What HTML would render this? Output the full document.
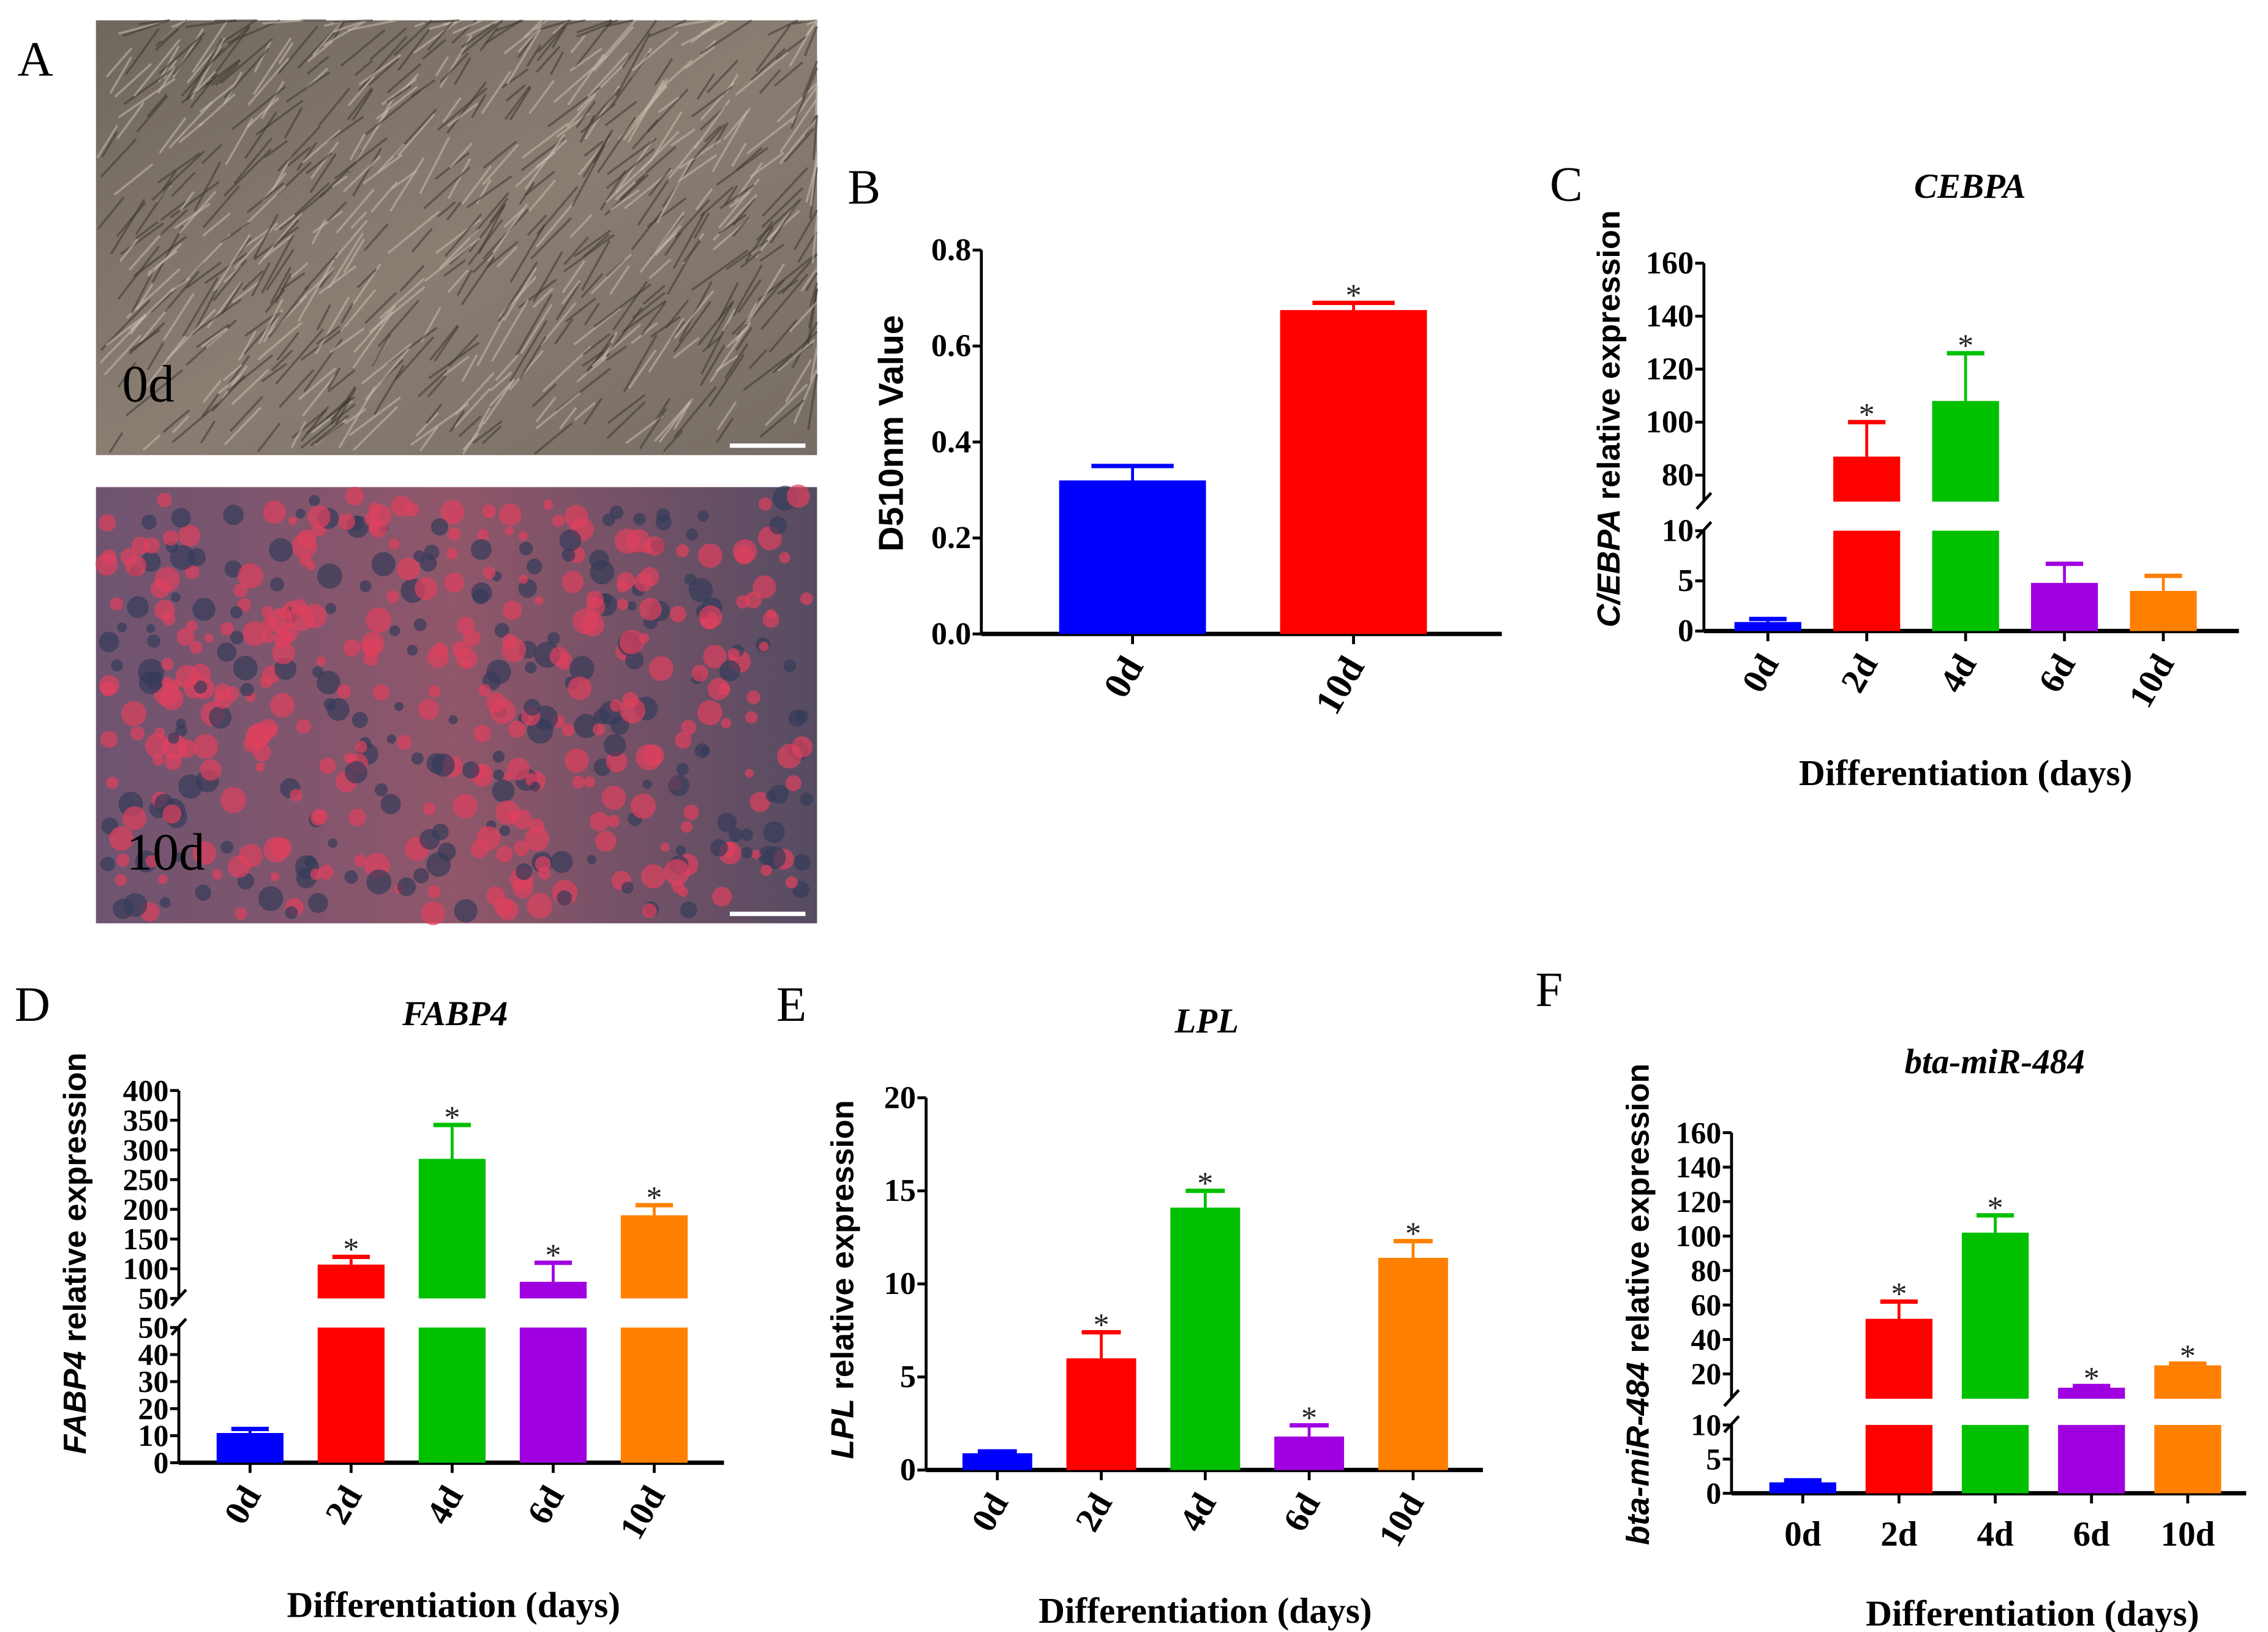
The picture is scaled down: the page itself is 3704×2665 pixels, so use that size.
<!DOCTYPE html>
<html><head><meta charset="utf-8"><style>
html,body{margin:0;padding:0;background:#fff;}
svg{display:block;}
text{font-family:"Liberation Serif",serif;}
text.sans{font-family:"Liberation Sans",sans-serif;}
</style></head><body>
<svg id="fig" width="3704" height="2665" viewBox="0 0 1560 1122.4" preserveAspectRatio="none" xmlns="http://www.w3.org/2000/svg">
<defs>
<linearGradient id="g0" x1="0" y1="0" x2="1" y2="1"><stop offset="0" stop-color="#6f675d"/><stop offset="0.5" stop-color="#8a7e73"/><stop offset="1" stop-color="#766d64"/></linearGradient>
<linearGradient id="g1" x1="0" y1="0" x2="1" y2="0"><stop offset="0" stop-color="#6e5470"/><stop offset="0.5" stop-color="#90566a"/><stop offset="1" stop-color="#564c62"/></linearGradient>
</defs>
<text x="12" y="52" font-size="34">A</text>
<g id="photo0"><rect x="66" y="14" width="496" height="299" fill="url(#g0)"/></g>
<g id="photo10"><rect x="66" y="335" width="496" height="300" fill="url(#g1)"/></g>
<text x="84" y="276" font-size="36">0d</text>
<text x="87" y="598" font-size="36">10d</text>
<rect x="502" y="305" width="52" height="3" fill="#fff"/>
<rect x="502" y="627" width="52" height="3" fill="#fff"/>
<text x="583" y="140" font-size="34">B</text>
<text x="1066" y="138" font-size="34">C</text>
<text x="10" y="702" font-size="34">D</text>
<text x="534" y="702" font-size="34">E</text>
<text x="1056" y="692" font-size="34">F</text>
<g id="charts"></g>
</svg>
<script>
// ---- data ----
const bCats = ["0d","10d"];
const bVals = [0.32, 0.675];
const bErrs = [0.35, 0.69];
const bStars = [false, true];
const bTicks = ["0.0","0.2","0.4","0.6","0.8"];

const dayCats = ["0d","2d","4d","6d","10d"];
const cVals = [0.9, 87, 108, 4.8, 4.0];
const cErrs = [1.2, 100, 126, 6.7, 5.5];
const cStars = [false, true, true, false, false];
const cTicksLow = ["0","5","10"];
const cTicksHigh = ["80","100","120","140","160"];

const dVals = [11, 107, 285, 78, 190];
const dErrs = [12.5, 120, 342, 110, 207];
const dStars = [false, true, true, true, true];
const dTicksLow = ["0","10","20","30","40","50"];
const dTicksHigh = ["50","100","150","200","250","300","350","400"];

const eVals = [0.9, 6.0, 14.1, 1.8, 11.4];
const eErrs = [1.0, 7.4, 15.0, 2.4, 12.3];
const eStars = [false, true, true, true, true];
const eTicks = ["0","5","10","15","20"];

const fVals = [1.6, 52, 102, 12, 25];
const fErrs = [1.9, 62, 112, 13, 26];
const fStars = [false, true, true, true, true];
const fTicksLow = ["0","5","10"];
const fTicksHigh = ["20","40","60","80","100","120","140","160"];

const colors5 = ["#0000ff","#ff0000","#00c000","#a000e0","#ff8000"];
const colors2 = ["#0000ff","#ff0000"];

const NS = "http://www.w3.org/2000/svg";
const root = document.getElementById('charts');
function mk(tag, attrs, parent, txt){
  const e = document.createElementNS(NS, tag);
  for (const k in attrs) e.setAttribute(k, attrs[k]);
  if (txt !== undefined) e.textContent = txt;
  (parent||root).appendChild(e);
  return e;
}

// photo textures (decorative)
(function(){
  const p0 = document.getElementById('photo0');
  let s = 7;
  function rnd(){ s = (s*9301+49297)%233280; return s/233280; }
  for (let i=0;i<700;i++){
    const x = 66+rnd()*496, y = 14+rnd()*299, L = 15+rnd()*35, a = -0.6 - rnd()*0.5;
    const c = rnd()<0.55 ? "#3e3832" : "#c8bcae";
    mk('line',{x1:x,y1:y,x2:Math.min(562,x+L*Math.cos(a)),y2:Math.max(14,y+L*Math.sin(a)),stroke:c,'stroke-width':1.5,opacity:0.55},p0);
  }
  const p1 = document.getElementById('photo10');
  for (let i=0;i<500;i++){
    const x = 72+rnd()*484, y = 341+rnd()*288, r = 3+rnd()*6;
    const c = rnd()<0.6 ? "#e0405e" : "#343c5a";
    mk('circle',{cx:x,cy:y,r:r,fill:c,opacity:0.7},p1);
  }
})();

// ---- generic chart ----
function chart(cfg){
  const g = mk('g',{});
  
  
  const segs = cfg.segs;
  function segFor(v){
    for (let i=segs.length-1;i>=0;i--) if (v>=segs[i].lo) return segs[i];
    return segs[0];
  }
  function yOf(v, sg){ sg = sg || segFor(v); return sg.yb - (v - sg.lo)/(sg.hi - sg.lo)*(sg.yb - sg.yt); }
  const ax = cfg.ax, y0 = segs[0].yb;
  segs.forEach((sg,si)=>{
    const yl = mk('line',{x1:ax,y1:sg.yb,x2:ax,y2:sg.yt,stroke:'#000','stroke-width':2},g);
    
    
    sg.ticks.forEach(t=>{
      const v = parseFloat(t), y = yOf(v, sg);
      mk('line',{x1:ax-6,y1:y,x2:ax,y2:y,stroke:'#000','stroke-width':2},g);
      const tl = mk('text',{x:ax-7,y:y+7,'font-size':cfg.tfs||22,'font-weight':'bold','text-anchor':'end'},g,t);
      
      
    });
    if (si>0){
      const yb = sg.yb, yt2 = segs[si-1].yt;
      mk('line',{x1:ax-5,y1:yb+5,x2:ax+5,y2:yb-6,stroke:'#000','stroke-width':2},g);
      mk('line',{x1:ax-5,y1:yt2+5,x2:ax+5,y2:yt2-6,stroke:'#000','stroke-width':2},g);
    }
  });
  const xl = mk('line',{x1:ax,y1:y0,x2:cfg.axEnd,y2:y0,stroke:'#000','stroke-width':3},g);
  
  
  cfg.cats.forEach((c,i)=>{
    const cx = cfg.c0 + i*cfg.step, w = cfg.bw, v = cfg.vals[i], e = cfg.errs[i], col = cfg.colors[i];
    for (let si=0; si<segs.length; si++){
      const sg = segs[si];
      if (v <= sg.lo && si>0) continue;
      const top = Math.min(v, si===segs.length-1 ? v : sg.hi);
      const yT = yOf(top, sg), yB = sg.yb;
      const b = mk('rect',{x:cx-w/2,y:yT,width:w,height:Math.max(0,yB-yT),fill:col},g);
      
      
    }
    const yv = yOf(v), ye = yOf(e);
    mk('line',{x1:cx,y1:yv,x2:cx,y2:ye,stroke:col,'stroke-width':2},g);
    const cap = mk('line',{x1:cx-w*0.28,y1:ye,x2:cx+w*0.28,y2:ye,stroke:col,'stroke-width':3},g);
    
    
    if (cfg.stars[i]){
      const st = mk('text',{x:cx,y:ye+2,'font-size':22,'text-anchor':'middle',fill:'#222'},g,'*');
      
      
    }
    mk('line',{x1:cx,y1:y0,x2:cx,y2:y0+7,stroke:'#000','stroke-width':2},g);
    let lab;
    if (cfg.rot){
      lab = mk('text',{x:cx+8,y:y0+22,'font-size':cfg.xfs||24,'font-weight':'bold','text-anchor':'end',transform:'rotate(-60 '+(cx+8)+' '+(y0+22)+')'},g,c);
    } else {
      lab = mk('text',{x:cx,y:y0+36,'font-size':cfg.xfs||24,'font-weight':'bold','text-anchor':'middle'},g,c);
    }
    
    
  });
  if (cfg.title){
    const t = mk('text',{x:cfg.title[1],y:cfg.title[2],'font-size':24,'font-weight':'bold','font-style':'italic','text-anchor':'middle'},g,cfg.title[0]);
    
    
  }
  if (cfg.xlab){
    const t = mk('text',{x:cfg.xlab[0],y:cfg.xlab[1],'font-size':25,'font-weight':'bold','text-anchor':'middle'},g,'Differentiation (days)');
    
    
  }
  const fs = cfg.ylab[4] || 25;
  const yt = mk('text',{class:'sans',x:cfg.ylab[1],y:cfg.ylab[2],'font-size':fs,'font-weight':'bold','text-anchor':'middle',transform:'rotate(-90 '+cfg.ylab[1]+' '+cfg.ylab[2]+')'},g);
  
  
  if (cfg.ylab[3]){
    mk('tspan',{'font-style':'italic'},yt,cfg.ylab[3]);
    mk('tspan',{},yt,cfg.ylab[0]);
  } else yt.textContent = cfg.ylab[0];
}

chart({name:'chart-b-od510', ax:675, axEnd:1033, cats:bCats, vals:bVals, errs:bErrs, stars:bStars, colors:colors2,
  c0:779, step:152, bw:101, rot:true, xfs:26,
  segs:[{lo:0,hi:0.8,yb:436,yt:172,ticks:bTicks}],
  ylab:['D510nm Value',621,298,null,24]});

chart({name:'chart-c-cebpa', ax:1172, axEnd:1540, cats:dayCats, vals:cVals, errs:cErrs, stars:cStars, colors:colors5,
  c0:1216, step:68, bw:46, rot:true,
  segs:[{lo:0,hi:10,yb:434,yt:365,ticks:cTicksLow},{lo:70,hi:160,yb:345,yt:181,ticks:cTicksHigh}],
  title:['CEBPA',1355,136], xlab:[1352,540],
  ylab:[' relative expression',1114,288,'C/EBPA',22]});

chart({name:'chart-d-fabp4', ax:123, axEnd:498, cats:dayCats, vals:dVals, errs:dErrs, stars:dStars, colors:colors5,
  c0:172, step:69.5, bw:46, rot:true,
  segs:[{lo:0,hi:50,yb:1006,yt:913,ticks:dTicksLow},{lo:50,hi:400,yb:893,yt:750,ticks:dTicksHigh}],
  title:['FABP4',313,705], xlab:[312,1112], tfs:21,
  ylab:[' relative expression',59,862,'FABP4',22]});

chart({name:'chart-e-lpl', ax:637, axEnd:1020, cats:dayCats, vals:eVals, errs:eErrs, stars:eStars, colors:colors5,
  c0:686, step:71.5, bw:48, rot:true,
  segs:[{lo:0,hi:20,yb:1011,yt:755,ticks:eTicks}],
  title:['LPL',830,710], xlab:[829,1116],
  ylab:[' relative expression',587,880,'LPL',22]});

chart({name:'chart-f-mir484', ax:1191, axEnd:1545, cats:dayCats, vals:fVals, errs:fErrs, stars:fStars, colors:colors5,
  c0:1240, step:66.2, bw:46, rot:false,
  segs:[{lo:0,hi:10,yb:1027,yt:980,ticks:fTicksLow},{lo:5.6,hi:160,yb:962,yt:779,ticks:fTicksHigh}],
  title:['bta-miR-484',1372,738], xlab:[1398,1118], tfs:21,
  ylab:[' relative expression',1134,897,'bta-miR-484',22]});
</script>
</body></html>
